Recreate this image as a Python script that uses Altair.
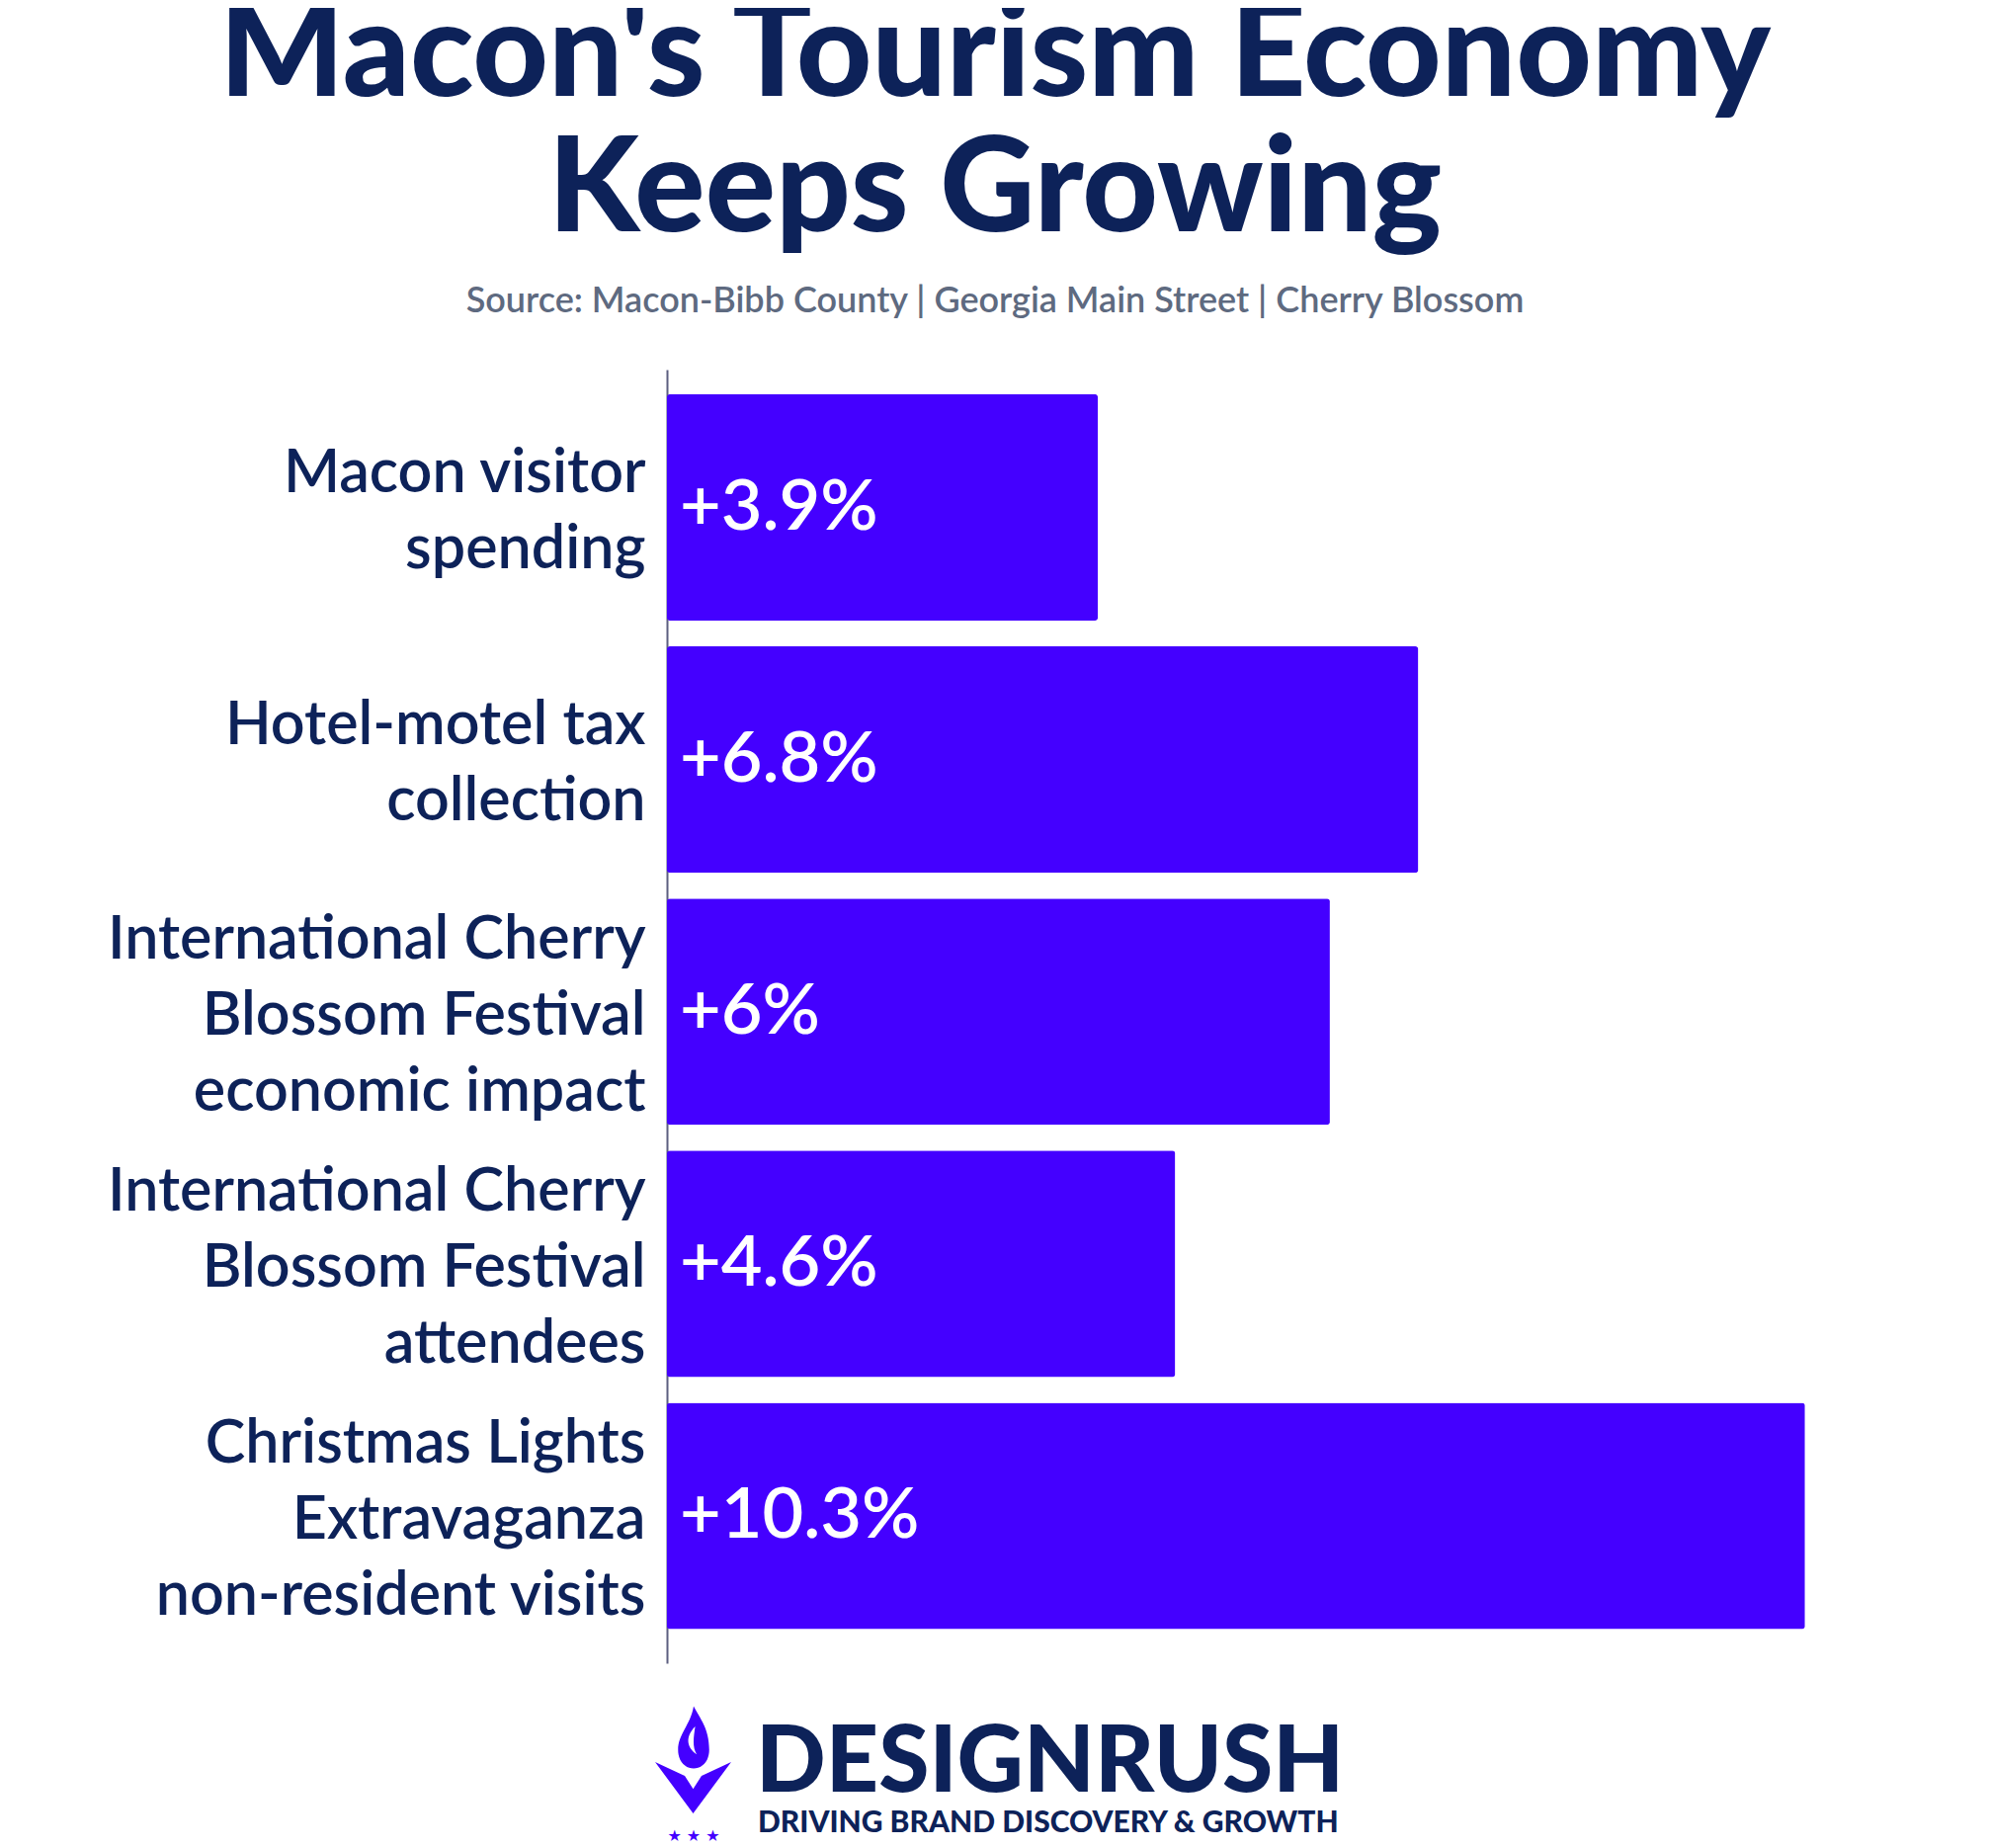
import altair as alt
import pandas as pd

categories = [
    "Macon visitor\nspending",
    "Hotel-motel tax\ncollection",
    "International Cherry\nBlossom Festival\neconomic impact",
    "International Cherry\nBlossom Festival\nattendees",
    "Christmas Lights\nExtravaganza\nnon-resident visits",
]
values = [3.9, 6.8, 6.0, 4.6, 10.3]
value_labels = ["+3.9%", "+6.8%", "+6%", "+4.6%", "+10.3%"]

title_lines = ["Macon's Tourism Economy", "Keeps Growing"]
subtitle_text = "Source: Macon-Bibb County | Georgia Main Street | Cherry Blossom"
brand_name = ["DESIGNRUSH"]
brand_tagline = ["DRIVING BRAND DISCOVERY & GROWTH"]
brand_stars = ["★   ★   ★"]

NAVY = "#0d2259"
BAR = "#4400ff"
FONT = "Lato"
LH = 77

df = pd.DataFrame({"category": categories, "value": values, "label": value_labels})

y_enc = alt.Y(
    "category:N",
    sort=categories,
    scale=alt.Scale(paddingInner=0.102, paddingOuter=0.1166, align=0.42),
    axis=alt.Axis(
        title=None,
        labelExpr="split(datum.label, '\\n')",
        labelFont=FONT,
        labelFontSize=61,
        labelFontWeight=600,
        labelLineHeight=LH,
        labelColor=NAVY,
        labelPadding=22,
        labelLimit=0,
        labelAlign="right",
        labelBaseline="middle",
        labelOffset={
            "condition": {"test": "length(split(datum.label, '\\n')) > 2", "value": -LH + 5},
            "value": -LH / 2 + 5,
        },
        ticks=False,
        domainColor="#5c5f80",
        domainWidth=2,
        grid=False,
    ),
)

bars = alt.Chart(df).mark_bar(color=BAR, cornerRadius=3).encode(
    x=alt.X("value:Q", scale=alt.Scale(domain=[0, 11], nice=False, zero=True), axis=None),
    y=y_enc,
)

bar_text = alt.Chart(df).mark_text(
    align="left", baseline="middle", font=FONT, fontSize=72, fontWeight=600, color="white"
).encode(
    x=alt.value(13),
    y=alt.Y("category:N", sort=categories),
    text="label:N",
)

flame_path = "M 0 -1 C 0.2 -0.6 0.5 -0.3 0.5 0.4 C 0.5 0.8 0.25 1 0 1 C -0.25 1 -0.5 0.8 -0.5 0.4 C -0.5 -0.1 -0.1 -0.4 0 -1 Z"
swirl_path = "M 0.05 -0.35 C -0.3 0 -0.2 0.35 0.1 0.55 C -0.05 0.3 0 0 0.05 -0.35 Z"
v_path = "M -1 -0.675 L -0.22 -0.31 L 0 0.03 L 0.22 -0.31 L 1 -0.675 L 0 0.675 Z"

logo_df = pd.DataFrame({"name": brand_name})
flame = alt.Chart(logo_df).mark_point(
    shape=flame_path, filled=True, color=BAR, opacity=1, size=3969, strokeWidth=0
).encode(x=alt.value(27), y=alt.value(1384))
swirl = alt.Chart(logo_df).mark_point(
    shape=swirl_path, filled=True, color="white", opacity=1, size=3969, strokeWidth=0
).encode(x=alt.value(27), y=alt.value(1384))
vmark = alt.Chart(logo_df).mark_point(
    shape=v_path, filled=True, color=BAR, opacity=1, size=5929, strokeWidth=0
).encode(x=alt.value(26.5), y=alt.value(1435))
stars = alt.Chart(pd.DataFrame({"s": brand_stars})).mark_text(
    align="center", baseline="middle", font="DejaVu Sans", fontSize=16, color=BAR
).encode(x=alt.value(27), y=alt.value(1484), text="s:N")
name = alt.Chart(logo_df).mark_text(
    align="left", baseline="alphabetic", font=FONT, fontSize=93, fontWeight=900, color=NAVY
).encode(x=alt.value(90), y=alt.value(1439), text="name:N")
tag = alt.Chart(pd.DataFrame({"t": brand_tagline})).mark_text(
    align="left", baseline="alphabetic", font=FONT, fontSize=30, fontWeight=900, color=NAVY
).encode(x=alt.value(92), y=alt.value(1480), text="t:N")

chart = alt.layer(bars, bar_text, flame, swirl, vmark, stars, name, tag).properties(
    width=1230,
    height=1309,
    autosize=alt.AutoSizeParams(type="none"),
    padding={"left": 667, "top": 366, "right": 60, "bottom": 186},
    background="white",
    title=alt.TitleParams(
        text=title_lines,
        subtitle=subtitle_text,
        anchor="middle",
        dx=-283,
        offset=50,
        font=FONT,
        fontSize=133,
        fontWeight=900,
        lineHeight=137,
        color=NAVY,
        subtitleFont=FONT,
        subtitleFontSize=36,
        subtitleFontWeight=600,
        subtitleColor="#5e6a80",
        subtitlePadding=26,
    ),
).configure_view(stroke=None)

chart.save("out.html", embed_options={"renderer": "svg", "actions": False})
